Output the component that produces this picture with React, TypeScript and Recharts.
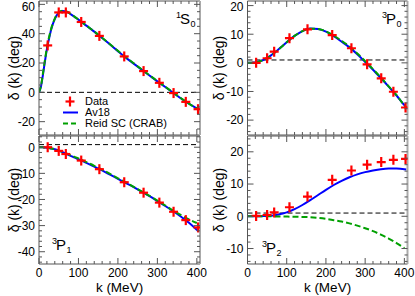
import { ComposedChart, Line, Scatter, XAxis, YAxis, ReferenceLine, Legend } from 'recharts'

// measured phase shifts (red crosses), same k for every wave
const K_DATA = [22, 50, 68, 107, 153, 216, 265, 305, 341, 372, 403]
const S0_DATA = [32, 54.5, 54.5, 48, 38.5, 24.5, 14.5, 6.5, -0.5, -6.5, -11.5]
const P0_DATA = [0, 1.6, 3.9, 8.6, 11.7, 9.7, 5.1, -0.5, -5.4, -10.1, -15.6]
const P1_DATA = [0, -1.4, -2.6, -5.1, -8.4, -13.4, -17.4, -21.2, -24.7, -27.9, -30.7]
const P2_DATA = [0.1, 0.4, 1.2, 2.8, 6.1, 11.3, 14.2, 16.0, 16.8, 17.5, 17.8]

// potential curves
const K_CURVE = [0, 5, 10, 15, 20, 25, 30, 35, 40, 50, 60, 70, 80, 90, 100, 120, 140, 160, 180, 200, 220, 240, 260, 280, 300, 320, 340, 360, 380, 400, 405]
const S0_AV18 = [0, 4, 12, 21, 29.5, 36, 42, 46.5, 50, 54.3, 55.5, 55, 53.4, 51.5, 49.6, 45.5, 41.4, 37.1, 32.6, 28.1, 23.7, 19.6, 15.5, 11.5, 7.5, 3.6, -0.3, -4.2, -7.8, -11.0, -11.8]
const S0_REID = [0, 4.5, 13, 22, 30.5, 37, 42.5, 47, 50.3, 54.5, 55.6, 55.1, 53.5, 51.6, 49.7, 45.6, 41.5, 37.2, 32.8, 28.3, 23.9, 19.8, 15.7, 11.7, 7.7, 3.8, -0.1, -4.0, -7.7, -11.0, -11.8]
const P0_AV18 = [0, 0, 0.05, 0.1, 0.2, 0.35, 0.5, 0.75, 1.0, 1.7, 2.6, 3.7, 4.8, 6.0, 7.2, 9.4, 11.1, 12.0, 11.8, 10.9, 9.3, 7.4, 5.4, 3.0, 0.3, -2.4, -5.3, -8.3, -11.4, -14.8, -15.6]
const P0_REID = [0, 0, 0.05, 0.1, 0.2, 0.3, 0.5, 0.7, 0.95, 1.65, 2.55, 3.6, 4.8, 6.0, 7.2, 9.4, 11.1, 11.95, 11.85, 11.0, 9.5, 7.7, 5.7, 3.3, 0.6, -2.2, -5.1, -8.2, -11.3, -14.8, -15.5]
const P1_AV18 = [0, 0, -0.05, -0.1, -0.2, -0.3, -0.45, -0.6, -0.8, -1.3, -1.9, -2.6, -3.3, -4.0, -4.6, -6.0, -7.4, -8.9, -10.5, -12.1, -13.7, -15.3, -17.0, -18.7, -20.6, -22.5, -24.5, -26.6, -28.9, -31.6, -32.3]
const P1_REID = [0, 0, -0.05, -0.1, -0.2, -0.3, -0.45, -0.6, -0.8, -1.3, -1.8, -2.4, -3.1, -3.7, -4.3, -5.7, -7.1, -8.6, -10.2, -11.9, -13.5, -15.2, -16.9, -18.6, -20.4, -22.3, -24.2, -26.0, -27.6, -29.0, null]
const P2_AV18 = [0, 0, 0, 0, 0, 0.01, 0.02, 0.03, 0.05, 0.1, 0.2, 0.35, 0.55, 0.85, 1.2, 2.2, 3.5, 5.0, 6.6, 8.2, 9.7, 11.0, 12.1, 13.0, 13.7, 14.2, 14.6, 14.8, 14.8, 14.6, 14.5]
const P2_REID = [0, 0, 0, 0, 0, 0, 0, 0, 0, -0.01, -0.02, -0.03, -0.05, -0.07, -0.1, -0.15, -0.2, -0.3, -0.5, -0.8, -1.2, -1.6, -2.2, -2.9, -3.7, -4.6, -5.7, -6.9, -8.3, -9.9, null]

// tick labels
const X_TICKS = [0, 100, 200, 300, 400]
const S0_Y_TICKS = [-20, 0, 20, 40, 60]
const P0_Y_TICKS = [-20, -10, 0, 10, 20]
const P1_Y_TICKS = [-40, -30, -20, -10, 0]
const P2_Y_TICKS = [-10, 0, 10, 20]

const SERIES = ['Data', 'Av18', 'Reid SC (CRAB)']
const Y_TITLE = 'δ (k) (deg)'
const X_TITLE = 'k (MeV)'

const W = 415
const H = 296
const FONT = '"Liberation Sans", Arial, Helvetica, sans-serif'
const AXIS = '#555'
const EDGE = '#aaa'
const RED = '#ff0000'
const BLUE = '#0000ff'
const GREEN = '#00a000'
const X_DOMAIN: [number, number] = [0, 408]

interface Panel {
  wave: [string, string, string]
  left: number
  top: number
  right: number
  bottom: number
  yDomain: [number, number]
  yMajor: number[]
  yStep: number
  zero: number
  data: number[]
  av18: (number | null)[]
  reid: (number | null)[]
  xLabels: boolean
  legend: boolean
  tag: [number, number]
}

const PANELS: Panel[] = [
  { wave: ['1', 'S', '0'], left: 39, top: 1, right: 200, bottom: 135, yDomain: [-29.1, 62.3], yMajor: S0_Y_TICKS, yStep: 5, zero: 0, data: S0_DATA, av18: S0_AV18, reid: S0_REID, xLabels: false, legend: true, tag: [176, 24] },
  { wave: ['3', 'P', '0'], left: 247.5, top: 1, right: 407.5, bottom: 135, yDomain: [-25.2, 21.6], yMajor: P0_Y_TICKS, yStep: 2, zero: 1, data: P0_DATA, av18: P0_AV18, reid: P0_REID, xLabels: false, legend: false, tag: [382, 23.5] },
  { wave: ['3', 'P', '1'], left: 39, top: 136, right: 200, bottom: 264, yDomain: [-44.7, 4.3], yMajor: P1_Y_TICKS, yStep: 2, zero: 1, data: P1_DATA, av18: P1_AV18, reid: P1_REID, xLabels: true, legend: false, tag: [52, 250] },
  { wave: ['3', 'P', '2'], left: 247.5, top: 136, right: 407.5, bottom: 264, yDomain: [-14.8, 24.9], yMajor: P2_Y_TICKS, yStep: 2, zero: 1, data: P2_DATA, av18: P2_AV18, reid: P2_REID, xLabels: true, legend: false, tag: [262, 253] },
]

const makeTicks = ([lo, hi]: [number, number], step: number) => {
  const out: number[] = []
  for (let v = Math.ceil(lo / step) * step; v <= hi + 1e-9; v += step) out.push(Math.round(v * 1000) / 1000)
  return out
}

// ROOT style ticks: drawn inside the frame
const yTick = (majors: number[], labels: boolean, dir: number) => (p: any) => {
  const v = p.payload.value
  const major = majors.includes(v)
  const len = major ? 6 : 3
  return (
    <g>
      <line x1={p.x} y1={p.y} x2={p.x + dir * len} y2={p.y} stroke={AXIS} strokeWidth={1} />
      {labels && major && (
        <text x={p.x - 4} y={Math.max(p.y, 6.5)} dy="0.36em" textAnchor="end" fontSize={12} fontFamily={FONT} fill="#000">
          {v}
        </text>
      )}
    </g>
  )
}

const xTick = (labels: boolean, dir: number) => (p: any) => {
  const v = p.payload.value
  const major = X_TICKS.includes(v)
  const len = major ? 6 : 3
  return (
    <g>
      <line x1={p.x} y1={p.y} x2={p.x} y2={p.y + dir * len} stroke={AXIS} strokeWidth={1} />
      {labels && major && (
        <text x={p.x} y={p.y + 12.5} textAnchor="middle" fontSize={12} fontFamily={FONT} fill="#000">
          {v}
        </text>
      )}
    </g>
  )
}

const Cross = (props: any) => {
  const { cx, cy } = props
  if (cx == null || cy == null) return <g />
  return (
    <g>
      <line x1={cx - 4.5} y1={cy} x2={cx + 4.5} y2={cy} stroke={RED} strokeWidth={2.2} />
      <line x1={cx} y1={cy - 5} x2={cx} y2={cy + 5} stroke={RED} strokeWidth={2.2} />
    </g>
  )
}

const LegendBox = () => (
  <div style={{ fontFamily: FONT, fontSize: 11, color: '#000' }}>
    {SERIES.map((name, i) => (
      <div key={name} style={{ display: 'flex', alignItems: 'center', height: 11 }}>
        <svg width={20} height={11} style={{ marginRight: 5 }}>
          {i === 0 && (
            <g>
              <line x1={5.5} y1={5.5} x2={14.5} y2={5.5} stroke={RED} strokeWidth={2.2} />
              <line x1={10} y1={0.5} x2={10} y2={10.5} stroke={RED} strokeWidth={2.2} />
            </g>
          )}
          {i === 1 && <line x1={3} y1={5.5} x2={18} y2={5.5} stroke={BLUE} strokeWidth={2} />}
          {i === 2 && <line x1={3} y1={5.5} x2={18} y2={5.5} stroke={GREEN} strokeWidth={2} strokeDasharray="5 3" />}
        </svg>
        <span style={{ lineHeight: '11px' }}>{name}</span>
      </div>
    ))}
  </div>
)

function PhasePanel({ p }: { p: Panel }) {
  const curve = K_CURVE.map((k, i) => ({ k, av18: p.av18[i], reid: p.reid[i] }))
  const pts = K_DATA.map((k, i) => ({ k, d: p.data[i] }))
  const xTicks = makeTicks(X_DOMAIN, 20)
  const yTicks = makeTicks(p.yDomain, p.yStep)
  // every axis is 1px thick so that it still renders; margins absorb it
  return (
    <div style={{ position: 'absolute', left: 0, top: 0 }}>
      <ComposedChart
        width={W}
        height={H}
        data={curve}
        margin={{ top: p.top - 1, left: p.left - 1, right: W - p.right - 1, bottom: H - p.bottom - 1 }}
      >
        <XAxis xAxisId="b" type="number" dataKey="k" domain={X_DOMAIN} ticks={xTicks} interval={0} height={1}
          tickSize={0} tickMargin={0} tickLine={false} axisLine={{ stroke: AXIS }} tick={xTick(p.xLabels, -1)} allowDataOverflow />
        <XAxis xAxisId="t" orientation="top" type="number" dataKey="k" domain={X_DOMAIN} ticks={xTicks} interval={0} height={1}
          tickSize={0} tickMargin={0} tickLine={false} axisLine={{ stroke: AXIS }} tick={xTick(false, 1)} allowDataOverflow />
        <YAxis yAxisId="l" type="number" domain={p.yDomain} ticks={yTicks} interval={0} width={1}
          tickSize={0} tickMargin={0} tickLine={false} axisLine={{ stroke: AXIS }} tick={yTick(p.yMajor, true, 1)} allowDataOverflow />
        <YAxis yAxisId="r" orientation="right" type="number" domain={p.yDomain} ticks={yTicks} interval={0} width={1}
          tickSize={0} tickMargin={0} tickLine={false} axisLine={{ stroke: EDGE, strokeWidth: 2 }} tick={yTick(p.yMajor, false, -1)} allowDataOverflow />
        <ReferenceLine xAxisId="b" yAxisId="l" y={p.zero} stroke="#000" strokeWidth={1} strokeDasharray="5 3" />
        <Line xAxisId="b" yAxisId="l" type="monotone" dataKey="av18" name={SERIES[1]} stroke={BLUE} strokeWidth={2}
          dot={false} activeDot={false} isAnimationActive={false} />
        <Line xAxisId="b" yAxisId="l" type="monotone" dataKey="reid" name={SERIES[2]} stroke={GREEN} strokeWidth={2}
          strokeDasharray="6 3" dot={false} activeDot={false} isAnimationActive={false} />
        <Scatter xAxisId="b" yAxisId="l" data={pts} dataKey="d" name={SERIES[0]} shape={Cross} isAnimationActive={false} />
        {p.legend && (
          <Legend layout="vertical" align="center" verticalAlign="middle"
            wrapperStyle={{ left: 60, top: 95.5, width: 'auto' }} content={() => <LegendBox />} />
        )}
      </ComposedChart>
    </div>
  )
}

export default function App() {
  return (
    <div style={{ position: 'absolute', left: 0, top: 0, width: W, height: H, background: '#fff', overflow: 'hidden' }}>
      {PANELS.map((p) => (
        <PhasePanel key={p.wave.join('')} p={p} />
      ))}
      <svg width={W} height={H} style={{ position: 'absolute', left: 0, top: 0, pointerEvents: 'none' }}>
        {PANELS.map((p) => {
          const [sup, main, sub] = p.wave
          const [tx, ty] = p.tag
          const cy = (p.top + p.bottom) / 2
          const cx = (p.left + p.right) / 2
          const titleX = p.left < 100 ? 14 : 219
          return (
            <g key={sup + main + sub} fontFamily={FONT} fill="#000">
              <text x={tx} y={ty - 6} fontSize={9}>{sup}</text>
              <text x={tx + 4} y={ty} fontSize={15}>{main}</text>
              <text x={tx + 14.5} y={ty + 3} fontSize={9}>{sub}</text>
              <text transform={`translate(${titleX}, ${cy}) rotate(-90)`} textAnchor="middle" dy="0.35em" fontSize={14}>
                {Y_TITLE}
              </text>
              {p.xLabels && (
                <text x={cx} y={292} textAnchor="middle" fontSize={13.5}>{X_TITLE}</text>
              )}
            </g>
          )
        })}
      </svg>
    </div>
  )
}
